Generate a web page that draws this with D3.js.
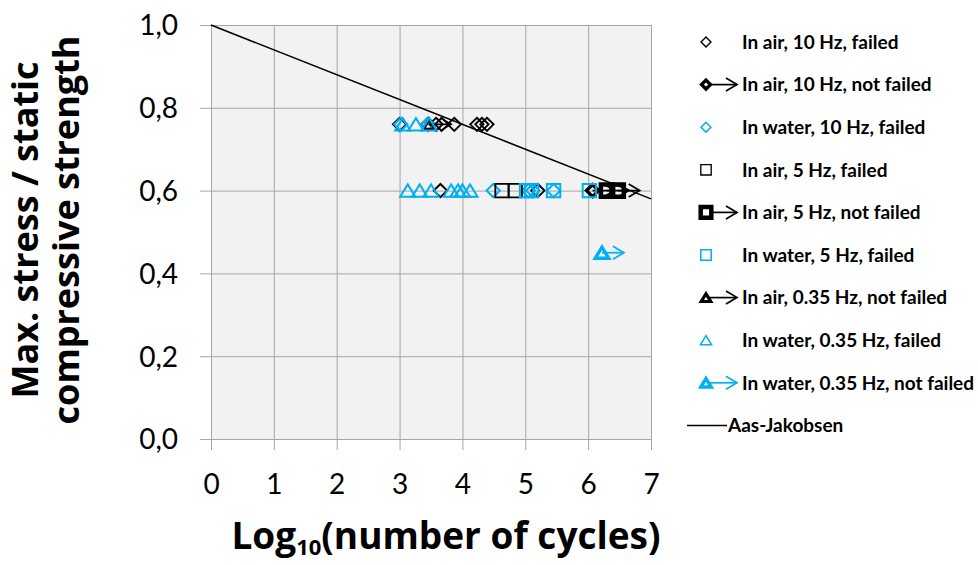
<!DOCTYPE html>
<html>
<head>
<meta charset="utf-8">
<script src="https://cdn.jsdelivr.net/npm/d3@7"></script>
<style>
  html, body { margin: 0; padding: 0; background: #ffffff; }
  svg { display: block; }
</style>
</head>
<body>
<svg id="chart" width="978" height="565"></svg>
<script>
// ---- data: log10(N) and max stress / static strength per test series ----
const airTenFailedX      = [3.00, 3.45, 3.58, 3.67, 3.87, 4.23, 4.31, 4.39, 3.65, 5.20];
const airTenFailedY      = [0.76, 0.76, 0.76, 0.76, 0.76, 0.76, 0.76, 0.76, 0.60, 0.60];
const airTenRunoutX      = [6.07];
const airTenRunoutY      = [0.60];
const waterTenFailedX    = [3.02, 3.45, 4.49, 5.05, 5.12, 5.45];
const waterTenFailedY    = [0.76, 0.76, 0.60, 0.60, 0.60, 0.60];
const airFiveFailedX     = [4.63, 4.84];
const airFiveFailedY     = [0.60, 0.60];
const airFiveRunoutX     = [6.30, 6.47];
const airFiveRunoutY     = [0.60, 0.60];
const waterFiveFailedX   = [5.02, 5.10, 5.45, 6.02];
const waterFiveFailedY   = [0.60, 0.60, 0.60, 0.60];
const airSlowRunoutX     = [3.47];
const airSlowRunoutY     = [0.76];
const waterSlowFailedX   = [3.05, 3.26, 3.47, 3.13, 3.32, 3.50, 3.82, 3.93, 4.00, 4.12];
const waterSlowFailedY   = [0.76, 0.76, 0.76, 0.60, 0.60, 0.60, 0.60, 0.60, 0.60, 0.60];
const waterSlowRunoutX   = [6.22];
const waterSlowRunoutY   = [0.45];
// Aas-Jakobsen S-N line
const aasX = [0, 7];
const aasY = [1.0, 0.58];

const xTicks = [0, 1, 2, 3, 4, 5, 6, 7];
const yTicks = [0, 0.2, 0.4, 0.6, 0.8, 1.0];

const legendLabels = [
  "In air, 10 Hz, failed",
  "In air, 10 Hz, not failed",
  "In water, 10 Hz, failed",
  "In air, 5 Hz, failed",
  "In air, 5 Hz, not failed",
  "In water, 5 Hz, failed",
  "In air, 0.35 Hz, not failed",
  "In water, 0.35 Hz, failed",
  "In water, 0.35 Hz, not failed",
  "Aas-Jakobsen"
];

// ---- layout ----
const BLACK = "#000000";
const BLUE = "#00b0f0";
const plot = { left: 211, top: 25, right: 651, bottom: 439 };

const svg = d3.select("#chart");
const x = d3.scaleLinear().domain([0, 7]).range([plot.left, plot.right]);
const y = d3.scaleLinear().domain([0, 1]).range([plot.bottom, plot.top]);

const comma = d3.formatLocale({ decimal: ",", thousands: " ", grouping: [3], currency: ["", ""] }).format(".1f");

// plot area background
svg.append("rect")
  .attr("x", plot.left).attr("y", plot.top)
  .attr("width", plot.right - plot.left).attr("height", plot.bottom - plot.top)
  .attr("fill", "#f2f2f2");

// gridlines
const gridColor = "#a6a6a6";
const gx = svg.append("g").attr("transform", `translate(0,${plot.bottom})`)
  .call(d3.axisBottom(x).tickValues(xTicks).tickSize(-(plot.bottom - plot.top)).tickFormat(""));
const gy = svg.append("g").attr("transform", `translate(${plot.left},0)`)
  .call(d3.axisLeft(y).tickValues(yTicks).tickSize(-(plot.right - plot.left)).tickFormat(""));
[gx, gy].forEach(g => {
  g.select(".domain").remove();
  g.selectAll("line").attr("stroke", gridColor).attr("stroke-width", 1);
});

// outer axes with labels
const fontTick = "Lato, 'Open Sans', sans-serif";
const ax = svg.append("g").attr("transform", `translate(0,${plot.bottom})`)
  .call(d3.axisBottom(x).tickValues(xTicks).tickSize(11).tickSizeOuter(0).tickFormat(d3.format("d")));
const ay = svg.append("g").attr("transform", `translate(${plot.left},0)`)
  .call(d3.axisLeft(y).tickValues(yTicks).tickSize(11).tickSizeOuter(0).tickFormat(comma));
[ax, ay].forEach(g => {
  g.select(".domain").attr("stroke", gridColor);
  g.selectAll("line").attr("stroke", gridColor);
  g.selectAll("text").attr("fill", "#000").style("font-family", fontTick).style("font-size", "28px");
});
ax.selectAll("text").attr("y", 35).attr("dy", "0.71em").attr("text-anchor", "middle");
ay.selectAll("text").attr("x", -33).attr("dy", "0.35em").attr("text-anchor", "end");

// Aas-Jakobsen line
const line = d3.line().x(d => x(d[0])).y(d => y(d[1]));
svg.append("path")
  .datum(d3.zip(aasX, aasY))
  .attr("d", line)
  .attr("fill", "none").attr("stroke", BLACK).attr("stroke-width", 1.6);

// ---- marker shapes ----
const diamondShape = {
  draw(ctx, size) {
    const r = Math.sqrt(size) / 2 * 1.05;
    ctx.moveTo(0, -r); ctx.lineTo(r, 0); ctx.lineTo(0, r); ctx.lineTo(-r, 0); ctx.closePath();
  }
};
const squareShape = {
  draw(ctx, size) {
    const h = Math.sqrt(size) / 2;
    ctx.moveTo(-h, -h); ctx.lineTo(h, -h); ctx.lineTo(h, h); ctx.lineTo(-h, h); ctx.closePath();
  }
};
const triangleShape = {
  draw(ctx, size) {
    const w = Math.sqrt(size);
    const h = w * 0.82;
    ctx.moveTo(0, -h / 2); ctx.lineTo(w / 2, h / 2); ctx.lineTo(-w / 2, h / 2); ctx.closePath();
  }
};

const series = [
  { xs: airTenFailedX,    ys: airTenFailedY,    shape: diamondShape,  color: BLACK, width: 1.9, size: 160, runout: false, leg: 0.55 },
  { xs: airTenRunoutX,    ys: airTenRunoutY,    shape: diamondShape,  color: BLACK, width: 3.4, size: 130, runout: true,  leg: 0.55 },
  { xs: waterTenFailedX,  ys: waterTenFailedY,  shape: diamondShape,  color: BLUE,  width: 2.0, size: 160, runout: false, leg: 0.55 },
  { xs: airFiveFailedX,   ys: airFiveFailedY,   shape: squareShape,   color: BLACK, width: 1.8, size: 180, runout: false, leg: 0.6 },
  { xs: airFiveRunoutX,   ys: airFiveRunoutY,   shape: squareShape,   color: BLACK, width: 4.5, size: 150, runout: true,  leg: 0.75 },
  { xs: waterFiveFailedX, ys: waterFiveFailedY, shape: squareShape,   color: BLUE,  width: 2.0, size: 180, runout: false, leg: 0.6 },
  { xs: airSlowRunoutX,   ys: airSlowRunoutY,   shape: triangleShape, color: BLACK, width: 3.2, size: 150, runout: true,  leg: 0.6 },
  { xs: waterSlowFailedX, ys: waterSlowFailedY, shape: triangleShape, color: BLUE,  width: 2.0, size: 230, runout: false, leg: 0.55 },
  { xs: waterSlowRunoutX, ys: waterSlowRunoutY, shape: triangleShape, color: BLUE,  width: 3.4, size: 180, runout: true,  leg: 0.6 }
];

// open arrow pointing right, from (x0,y0) to tip at (x1,y0)
function drawArrow(g, x0, y0, x1, color) {
  g.append("line").attr("x1", x0).attr("y1", y0).attr("x2", x1).attr("y2", y0)
    .attr("stroke", color).attr("stroke-width", 1.7);
  g.append("path")
    .attr("d", `M${x1 - 11},${y0 - 6.5}L${x1},${y0}L${x1 - 11},${y0 + 6.5}`)
    .attr("fill", "none").attr("stroke", color).attr("stroke-width", 1.7);
}

const marks = svg.append("g");
series.forEach(s => {
  const pts = d3.zip(s.xs, s.ys);
  const g = marks.append("g");
  if (s.runout) {
    pts.forEach(p => drawArrow(g, x(p[0]), y(p[1]), x(p[0]) + 22, s.color));
  }
  g.selectAll("path.m").data(pts).join("path")
    .attr("class", "m")
    .attr("transform", d => `translate(${x(d[0])},${y(d[1])})`)
    .attr("d", d3.symbol().type(s.shape).size(s.size))
    .attr("fill", "none")
    .attr("stroke", s.color)
    .attr("stroke-width", s.width);
});

// ---- axis titles ----
const fontTitle = "'Open Sans', Lato, sans-serif";
const xt = svg.append("text")
  .attr("x", 446).attr("y", 549)
  .attr("text-anchor", "middle")
  .style("font-family", fontTitle).style("font-weight", "bold").style("font-size", "37px");
xt.append("tspan").text("Log");
xt.append("tspan").attr("dy", 6).style("font-size", "22px").text("10");
xt.append("tspan").attr("dy", -6).text("(number of cycles)");

const yt = svg.append("text")
  .attr("transform", "translate(0,230) rotate(-90)")
  .attr("text-anchor", "middle")
  .style("font-family", fontTitle).style("font-weight", "bold").style("font-size", "36px");
yt.append("tspan").attr("x", 0).attr("y", 38).text("Max. stress / static");
yt.append("tspan").attr("x", 0).attr("y", 79).text("compressive strength");

// ---- legend ----
const fontLegend = "Lato, 'Open Sans', sans-serif";
const legend = svg.append("g");
const legRowY = d3.range(legendLabels.length).map(i => 42 + i * 42.6);
const mx = 706, tx = 742;
legendLabels.forEach((label, i) => {
  const yy = legRowY[i];
  const row = legend.append("g");
  if (i < series.length) {
    const s = series[i];
    if (s.runout) drawArrow(row, mx, yy, 737, s.color);
    row.append("path")
      .attr("transform", `translate(${mx},${yy})`)
      .attr("d", d3.symbol().type(s.shape).size(s.size * s.leg))
      .attr("fill", s.runout ? "#fff" : "none")
      .attr("stroke", s.color)
      .attr("stroke-width", s.runout ? s.width : s.width * 0.75);
    row.append("text").attr("x", tx).attr("y", yy).attr("dy", "0.36em")
      .style("font-family", fontLegend).style("font-weight", "bold").style("font-size", "19px")
      .text(label);
  } else {
    row.append("line").attr("x1", 687).attr("x2", 727).attr("y1", yy).attr("y2", yy)
      .attr("stroke", BLACK).attr("stroke-width", 1.5);
    row.append("text").attr("x", 728).attr("y", yy).attr("dy", "0.36em")
      .style("font-family", fontLegend).style("font-weight", "bold").style("font-size", "19px")
      .text(label);
  }
});
</script>
</body>
</html>
